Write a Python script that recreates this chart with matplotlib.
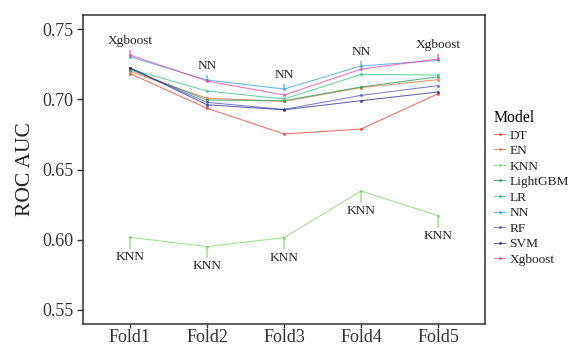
import matplotlib
matplotlib.use("Agg")
import matplotlib.pyplot as plt

folds = ["Fold1", "Fold2", "Fold3", "Fold4", "Fold5"]
models = ["DT", "EN", "KNN", "LightGBM", "LR", "NN", "RF", "SVM", "Xgboost"]

dt       = [0.7183, 0.6936, 0.6753, 0.6788, 0.7040]
en       = [0.7198, 0.7007, 0.6985, 0.7083, 0.7140]
knn      = [0.6017, 0.5951, 0.6015, 0.6347, 0.6171]
lightgbm = [0.7212, 0.6995, 0.6990, 0.7088, 0.7160]
lr       = [0.7215, 0.7059, 0.7002, 0.7177, 0.7173]
nn       = [0.7303, 0.7137, 0.7073, 0.7237, 0.7277]
rf       = [0.7220, 0.6978, 0.6928, 0.7028, 0.7097]
svm      = [0.7225, 0.6961, 0.6925, 0.6990, 0.7052]
xgboost  = [0.7315, 0.7130, 0.7030, 0.7215, 0.7287]

series = [dt, en, knn, lightgbm, lr, nn, rf, svm, xgboost]
colors = ["#EE3B2E", "#F26A36", "#7BD46A", "#1E9E55", "#2CC27A",
          "#2E9FEA", "#5252C2", "#2B2B8E", "#F03FA0"]

plt.rcParams["font.family"] = ["Liberation Serif", "DejaVu Serif"]

fig = plt.figure(figsize=(5.69, 3.46), dpi=100)
ax = fig.add_axes([0.1459, 0.0636, 0.7065, 0.893])

x = list(range(len(folds)))
for name, vals, c in zip(models, series, colors):
    ax.plot(x, vals, color=c, lw=0.75, alpha=0.75, label=name,
            marker="o", markersize=2.2, markeredgewidth=0,
            markerfacecolor=c)

# annotate best (top) and worst (bottom) model per fold
for i in x:
    col = [s[i] for s in series]
    imax = max(range(len(col)), key=lambda k: col[k])
    imin = min(range(len(col)), key=lambda k: col[k])
    ax.annotate(models[imax], xy=(i, col[imax]), xytext=(0, 5.5),
                textcoords="offset points", ha="center", va="bottom",
                fontsize=9.6, color="#222222",
                arrowprops=dict(arrowstyle="-", color=colors[imax], lw=0.8,
                                shrinkA=0, shrinkB=0))
    ax.annotate(models[imin], xy=(i, col[imin]), xytext=(0, -10),
                textcoords="offset points", ha="center", va="top",
                fontsize=9.6, color="#222222",
                arrowprops=dict(arrowstyle="-", color=colors[imin], lw=0.8,
                                shrinkA=0, shrinkB=0))

ax.set_xlim(-0.61, 4.61)
ax.set_ylim(0.540, 0.760)
ax.set_xticks(x)
ax.set_xticklabels(folds)
ax.set_yticks([0.55, 0.60, 0.65, 0.70, 0.75])
ax.set_yticklabels(["0.55", "0.60", "0.65", "0.70", "0.75"])
ax.tick_params(axis="both", labelsize=13, width=1, color="#333333",
               labelcolor="#333333", direction="out")
ax.tick_params(axis="y", length=4, pad=3)
ax.tick_params(axis="x", length=3, pad=0.5)
for sp in ax.spines.values():
    sp.set_color("#333333")
    sp.set_linewidth(1.1)
ax.set_ylabel("ROC AUC", fontsize=15.5, color="#222222", labelpad=5)

leg = fig.legend(loc="upper left", bbox_to_anchor=(494 / 569, 1 - 110 / 346),
                 frameon=False, title="Model", fontsize=9.6,
                 title_fontsize=11.3, handlelength=0.85, handletextpad=0.3,
                 labelspacing=0.24, borderaxespad=0, borderpad=0)
leg._legend_box.align = "left"
for t in leg.get_texts():
    t.set_color("#222222")

fig.savefig("out.png", dpi=100)
